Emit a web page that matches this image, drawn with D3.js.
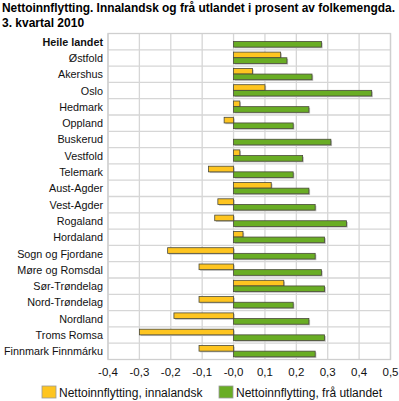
<!DOCTYPE html>
<html>
<head>
<meta charset="utf-8">
<script src="https://cdn.jsdelivr.net/npm/d3@7"></script>
<style>
  body { margin: 0; background: #fff; }
  svg { display: block; font-family: "Liberation Sans", Arial, sans-serif; }
</style>
</head>
<body>
<svg width="399" height="401"></svg>
<script>
const regions = ["Heile landet", "Østfold", "Akershus", "Oslo", "Hedmark", "Oppland", "Buskerud",
    "Vestfold", "Telemark", "Aust-Agder", "Vest-Agder", "Rogaland", "Hordaland", "Sogn og Fjordane",
    "Møre og Romsdal", "Sør-Trøndelag", "Nord-Trøndelag", "Nordland", "Troms Romsa", "Finnmark Finnmárku"];
const innalandsk = [0.00, 0.15, 0.06, 0.10, 0.02, -0.03, 0.00, 0.02, -0.08, 0.12, -0.05, -0.06, 0.03,
    -0.21, -0.11, 0.16, -0.11, -0.19, -0.30, -0.11];
const utlandet = [0.28, 0.17, 0.25, 0.44, 0.24, 0.19, 0.31, 0.22, 0.19, 0.24, 0.26, 0.36, 0.29,
    0.26, 0.28, 0.29, 0.19, 0.24, 0.29, 0.26];
const seriesNames = ["Nettoinnflytting, innalandsk", "Nettoinnflytting, frå utlandet"];
const seriesColors = ["#fec520", "#69ad24"];
const tickValues = [-0.4, -0.3, -0.2, -0.1, 0, 0.1, 0.2, 0.3, 0.4, 0.5];
const tickLabels = ["-0,4", "-0,3", "-0,2", "-0,1", "-0,0", "0,1", "0,2", "0,3", "0,4", "0,5"];

const svg = d3.select("svg");

const plotLeft = 108, plotRight = 390.5, plotTop = 33.5, plotBottom = 359.5;

const x = d3.scaleLinear().domain([-0.4, 0.5]).range([plotLeft, plotRight]);
const y = d3.scaleBand().domain(regions).range([plotTop, plotBottom]);
const sub = d3.scaleBand().domain([0, 1]).range([2.3, 13.6]);

// title
const title = svg.append("text")
    .attr("font-size", 12)
    .attr("font-weight", "bold")
    .attr("fill", "#000");
title.append("tspan").attr("x", 2).attr("y", 12)
    .attr("textLength", 393).attr("lengthAdjust", "spacingAndGlyphs")
    .text("Nettoinnflytting. Innalandsk og frå utlandet i prosent av folkemengda.");
title.append("tspan").attr("x", 2).attr("y", 27).text("3. kvartal 2010");

// grid
svg.append("g").selectAll("line")
    .data(tickValues)
    .enter().append("line")
    .attr("x1", d => x(d)).attr("x2", d => x(d))
    .attr("y1", plotTop).attr("y2", plotBottom)
    .attr("stroke", "#d6d6d6")
    .attr("stroke-width", 1.3);

svg.append("g").selectAll("line")
    .data(regions.slice(1))
    .enter().append("line")
    .attr("x1", plotLeft).attr("x2", plotRight)
    .attr("y1", d => y(d)).attr("y2", d => y(d))
    .attr("stroke", "#d6d6d6")
    .attr("stroke-width", 1.3);

svg.append("rect")
    .attr("x", plotLeft).attr("y", plotTop)
    .attr("width", plotRight - plotLeft).attr("height", plotBottom - plotTop)
    .attr("fill", "none")
    .attr("stroke", "#cfcfcf")
    .attr("stroke-width", 1.3);

// bars
const rows = regions.map((r, i) => ({ region: r, values: [innalandsk[i], utlandet[i]] }));

const rowG = svg.append("g").selectAll("g")
    .data(rows)
    .enter().append("g")
    .attr("transform", d => `translate(0,${y(d.region)})`);

const bars = rowG.selectAll("g")
    .data(d => d.values.map((v, k) => ({ v, k })))
    .enter().append("g");

bars.append("rect")
    .attr("x", d => Math.min(x(0), x(d.v)) + 1.2)
    .attr("y", d => sub(d.k) + 1.2)
    .attr("width", d => Math.abs(x(d.v) - x(0)))
    .attr("height", sub.bandwidth())
    .attr("fill", "#bdbdbd");

bars.append("rect")
    .attr("x", d => Math.min(x(0), x(d.v)))
    .attr("y", d => sub(d.k))
    .attr("width", d => Math.abs(x(d.v) - x(0)))
    .attr("height", sub.bandwidth())
    .attr("fill", d => seriesColors[d.k])
    .attr("stroke", "#4a4a3a")
    .attr("stroke-width", 0.8);

// y labels
svg.append("g").selectAll("text")
    .data(regions)
    .enter().append("text")
    .attr("x", 103)
    .attr("y", d => y(d) + y.bandwidth() / 2 + 4)
    .attr("text-anchor", "end")
    .attr("font-size", 10.8)
    .attr("font-weight", (d, i) => i === 0 ? "bold" : "normal")
    .attr("fill", "#111")
    .text(d => d);

// x tick labels
svg.append("g").selectAll("text")
    .data(tickValues)
    .enter().append("text")
    .attr("x", d => x(d))
    .attr("y", 376)
    .attr("text-anchor", "middle")
    .attr("font-size", 11.5)
    .attr("fill", "#111")
    .text((d, i) => tickLabels[i]);

// legend
const legendX = [42, 219];
const legend = svg.append("g").selectAll("g")
    .data(seriesNames)
    .enter().append("g")
    .attr("transform", (d, i) => `translate(${legendX[i]},386)`);

legend.append("rect")
    .attr("width", 14).attr("height", 12)
    .attr("fill", (d, i) => seriesColors[i])
    .attr("stroke", "#9a9a9a")
    .attr("stroke-width", 0.8);

legend.append("text")
    .attr("x", 17).attr("y", 10.5)
    .attr("font-size", 12)
    .attr("fill", "#111")
    .text(d => d);
</script>
</body>
</html>
